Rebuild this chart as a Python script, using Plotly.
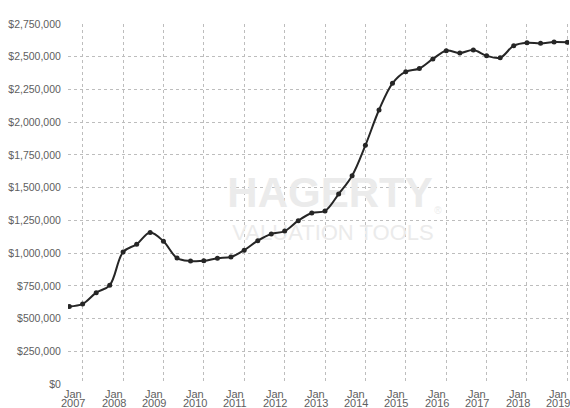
import datetime as dt
import plotly.graph_objects as go

# ---- data (every 4 months, Jan 2007 .. May 2019) ----
dates = [
    "2007-01-01", "2007-05-01", "2007-09-01",
    "2008-01-01", "2008-05-01", "2008-09-01",
    "2009-01-01", "2009-05-01", "2009-09-01",
    "2010-01-01", "2010-05-01", "2010-09-01",
    "2011-01-01", "2011-05-01", "2011-09-01",
    "2012-01-01", "2012-05-01", "2012-09-01",
    "2013-01-01", "2013-05-01", "2013-09-01",
    "2014-01-01", "2014-05-01", "2014-09-01",
    "2015-01-01", "2015-05-01", "2015-09-01",
    "2016-01-01", "2016-05-01", "2016-09-01",
    "2017-01-01", "2017-05-01", "2017-09-01",
    "2018-01-01", "2018-05-01", "2018-09-01",
    "2019-01-01", "2019-05-01",
]
values = [
    592000, 612000, 698000,
    754000, 1008000, 1068000,
    1158000, 1090000, 962000,
    940000, 941000, 961000,
    970000, 1022000, 1095000,
    1146000, 1168000, 1248000,
    1306000, 1322000, 1451000,
    1591000, 1823000, 2093000,
    2297000, 2386000, 2410000,
    2483000, 2546000, 2528000,
    2551000, 2508000, 2493000,
    2584000, 2607000, 2602000,
    2613000, 2610000,
]

year_labels = [str(y) for y in range(2007, 2020)]
label_dates = [f"{y}-01-01" for y in year_labels]
grid_dates = [f"{y}-05-01" for y in year_labels]

y_ticks = list(range(0, 2750001, 250000))
y_tick_text = ["$" + format(v, ",d") for v in y_ticks]

# ---- layout geometry ----
W, H = 570, 408
ML, MR, MT, MB = 68, 1, 24, 24
x0 = dt.date(2006, 12, 20)
x1 = dt.date(2019, 5, 16)
span = (x1 - x0).days
plot_w = W - ML - MR
plot_h = H - MT - MB


def px_to_date(px):
    """pixel x -> date on the axis (for placing the watermark)"""
    d = (px - ML) / plot_w * span
    return (dt.datetime(x0.year, x0.month, x0.day) + dt.timedelta(days=d)).isoformat()


def px_to_val(py):
    """pixel y -> value on the axis (for placing the watermark)"""
    return (MT + plot_h - py) / plot_h * 2750000


fig = go.Figure()

# watermark (drawn first so it sits under the line)
fig.add_trace(go.Scatter(
    x=[px_to_date(330), px_to_date(333), px_to_date(438)],
    y=[px_to_val(196), px_to_val(234), px_to_val(211)],
    mode="text",
    text=["HAGERTY", "VALUATION TOOLS", "®"],
    textfont=dict(
        family="Liberation Sans, Arial, sans-serif",
        size=[42, 22, 10],
        color="#ebebeb",
        weight=["bold", "normal", "normal"],
    ),
    hoverinfo="skip",
    showlegend=False,
))

fig.add_trace(go.Scatter(
    x=dates,
    y=values,
    mode="lines+markers",
    line=dict(color="#262626", width=2, shape="spline", smoothing=1.0),
    marker=dict(color="#262626", size=5),
    showlegend=False,
))

# two-line x labels ("Jan" / year), tight line spacing as in the reference
for d, y in zip(label_dates, year_labels):
    fig.add_annotation(x=d, xref="x", y=0, yref="paper", text="Jan",
                       showarrow=False, xanchor="center", yanchor="middle",
                       xshift=4, yshift=-9.5,
                       font=dict(size=11, color="#606060"))
    fig.add_annotation(x=d, xref="x", y=0, yref="paper", text=y,
                       showarrow=False, xanchor="center", yanchor="middle",
                       xshift=4, yshift=-19,
                       font=dict(size=11, color="#606060"))

fig.update_layout(
    width=W,
    height=H,
    margin=dict(l=ML, r=MR, t=MT, b=MB, pad=0),
    paper_bgcolor="white",
    plot_bgcolor="white",
    font=dict(family="Liberation Sans, Arial, sans-serif", size=11, color="#606060"),
    showlegend=False,
)

fig.update_xaxes(
    type="date",
    range=[x0.isoformat(), x1.isoformat()],
    automargin=False,
    tickmode="array",
    tickvals=label_dates,
    showticklabels=False,
    showgrid=False,
    ticks="",
    zeroline=False,
    showline=False,
    minor=dict(
        tickmode="array",
        tickvals=grid_dates,
        showgrid=True,
        gridcolor="#bdbdbd",
        griddash="dot",
        gridwidth=1,
        ticks="",
    ),
)

fig.update_yaxes(
    range=[0, 2750000],
    automargin=False,
    tickmode="array",
    tickvals=y_ticks,
    ticktext=y_tick_text,
    showgrid=True,
    gridcolor="#bdbdbd",
    griddash="dot",
    gridwidth=1,
    zeroline=False,
    showline=False,
    ticks="outside",
    ticklen=4,
    tickcolor="rgba(0,0,0,0)",
    tickfont=dict(size=10.5, color="#606060"),
)

fig.write_html(
    "out.html",
    config={"displayModeBar": False},
    post_script="document.body.style.margin='0';document.body.style.overflow='hidden';",
)
